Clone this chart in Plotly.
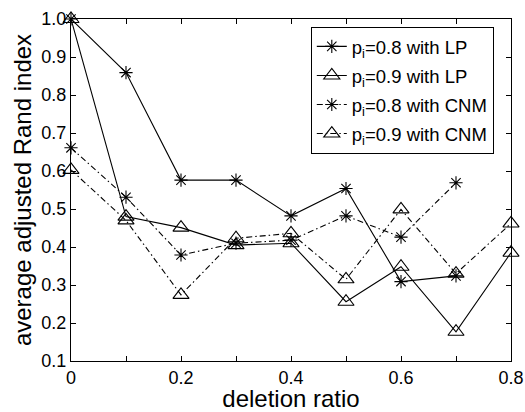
import plotly.graph_objects as go

x_star = [0, 0.1, 0.2, 0.3, 0.4, 0.5, 0.6, 0.7]
x_tri = [0, 0.1, 0.2, 0.3, 0.4, 0.5, 0.6, 0.7, 0.8]

lp_08 = [1.0, 0.859, 0.576, 0.576, 0.482, 0.554, 0.309, 0.324]
lp_09 = [1.0, 0.48, 0.451, 0.405, 0.41, 0.256, 0.348, 0.177, 0.385]
cnm_08 = [0.661, 0.531, 0.379, 0.41, 0.418, 0.482, 0.426, 0.569]
cnm_09 = [0.603, 0.47, 0.274, 0.423, 0.436, 0.315, 0.499, 0.33, 0.462]

names = ["p<sub>i</sub>=0.8 with LP", "p<sub>i</sub>=0.9 with LP",
         "p<sub>i</sub>=0.8 with CNM", "p<sub>i</sub>=0.9 with CNM"]

x_ticks = [0, 0.1, 0.2, 0.3, 0.4, 0.5, 0.6, 0.7, 0.8]
x_ticktext = ["0", "", "0.2", "", "0.4", "", "0.6", "", "0.8"]
y_ticks = [0.1, 0.2, 0.3, 0.4, 0.5, 0.6, 0.7, 0.8, 0.9, 1.0]
y_ticktext = ["0.1", "0.2", "0.3", "0.4", "0.5", "0.6", "0.7", "0.8", "0.9", "1.0"]

DASHDOT = "6px,3px,1.5px,3px"

fig = go.Figure()
specs = [
    (x_star, lp_08, names[0], "solid", "asterisk-open", 11),
    (x_tri, lp_09, names[1], "solid", "triangle-up-open", 14),
    (x_star, cnm_08, names[2], DASHDOT, "asterisk-open", 11),
    (x_tri, cnm_09, names[3], DASHDOT, "triangle-up-open", 14),
]
for i, (xs, ys, nm, dash, sym, sz) in enumerate(specs):
    fig.add_trace(go.Scatter(
        x=xs, y=ys, name=nm, mode="lines+markers", legendgroup=f"g{i}",
        line=dict(color="black", width=1.1, dash=dash),
        marker=dict(symbol=sym, size=sz, color="black",
                    line=dict(color="black", width=1.1)),
        cliponaxis=False,
    ))

font = "Liberation Sans, Arial, Helvetica, sans-serif"
fig.update_layout(
    width=525, height=412,
    margin=dict(l=71, r=14, t=19, b=51, autoexpand=False),
    paper_bgcolor="white", plot_bgcolor="white",
    font=dict(family=font, color="black", size=18),
    showlegend=True,
    legend=dict(x=0.545, y=0.977, xanchor="left", yanchor="top",
                bgcolor="white", bordercolor="black", borderwidth=1,
                font=dict(size=18.5), tracegroupgap=2, itemwidth=30),
    xaxis=dict(range=[0, 0.8], tickvals=x_ticks, ticktext=x_ticktext,
               ticks="inside", ticklen=5, tickcolor="black",
               showline=True, linecolor="black", linewidth=1, mirror="ticks",
               showgrid=False, zeroline=False, automargin=False,
               tickfont=dict(size=18),
               title=dict(text="deletion ratio", font=dict(size=24), standoff=4)),
    yaxis=dict(range=[0.1, 1.0], tickvals=y_ticks, ticktext=y_ticktext,
               ticks="inside", ticklen=5, tickcolor="black",
               showline=True, linecolor="black", linewidth=1, mirror="ticks",
               showgrid=False, zeroline=False, automargin=False,
               tickfont=dict(size=18),
               title=dict(text="average adjusted Rand index", font=dict(size=24), standoff=2)),
)

fig.write_html("out.html", config={"displayModeBar": False},
               post_script="document.body.style.margin='0';document.body.style.overflow='hidden';")
